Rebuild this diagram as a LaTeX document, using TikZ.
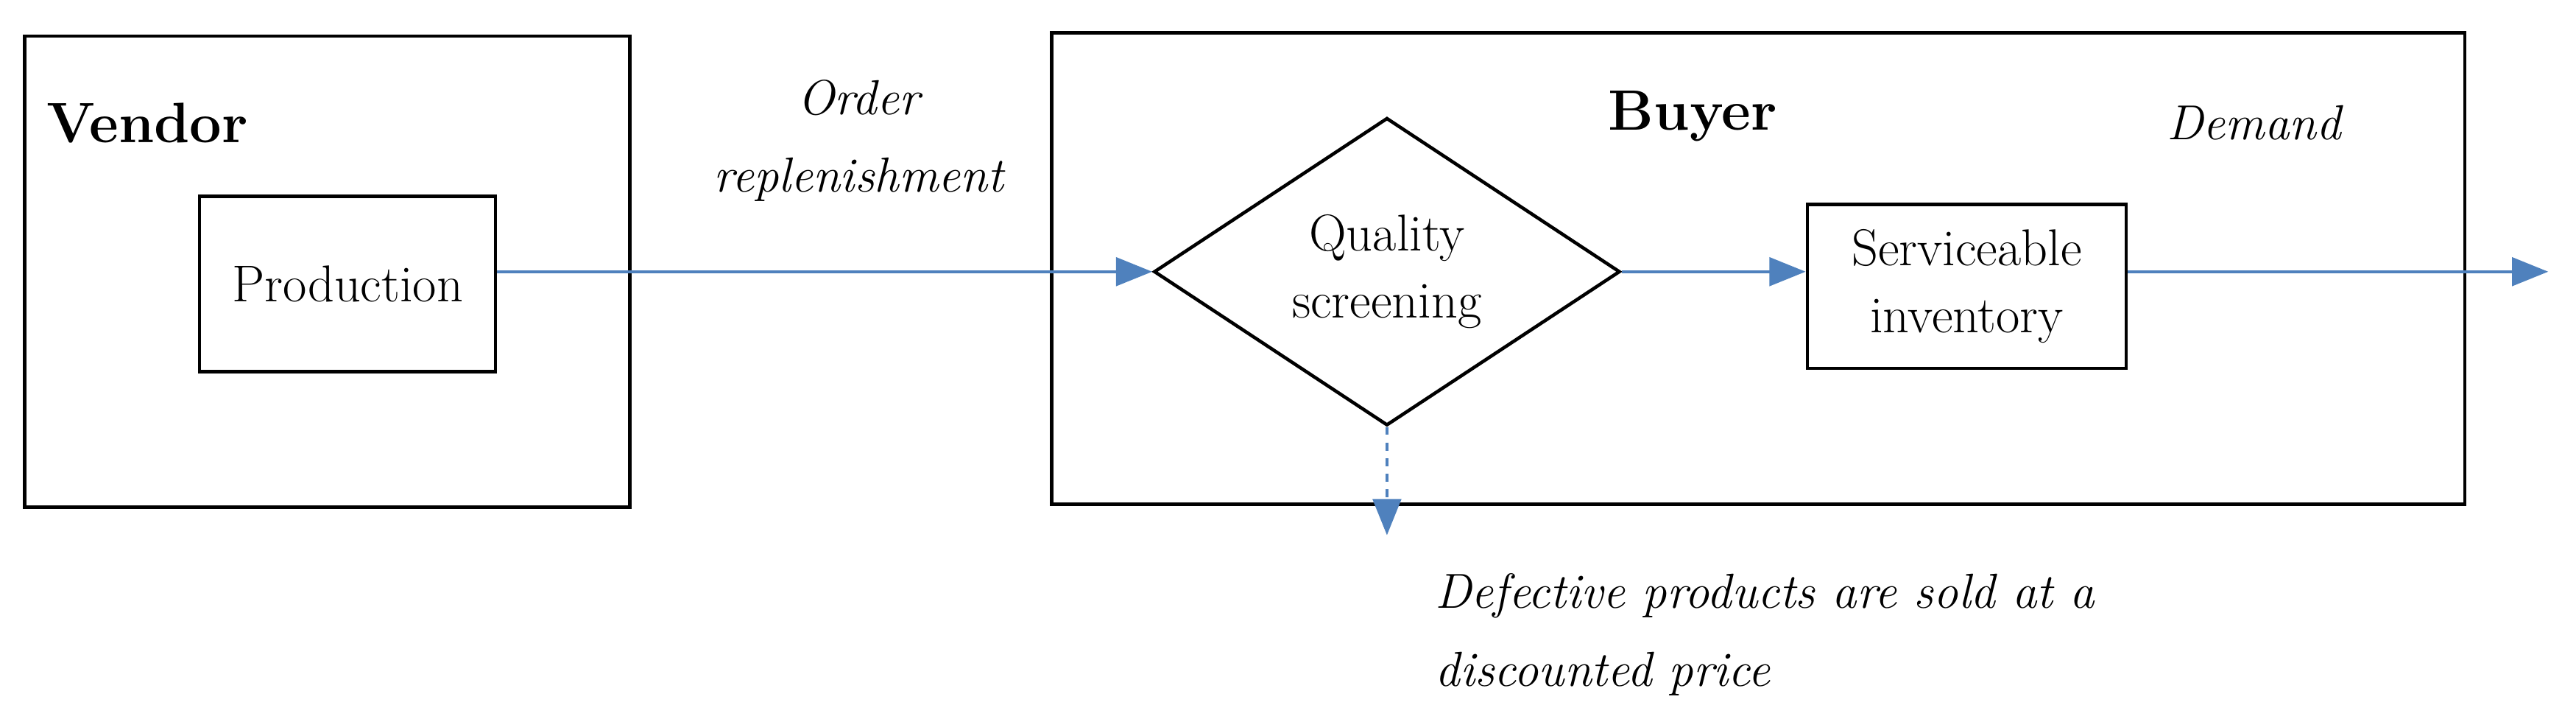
\documentclass[tikz,border=0pt]{standalone}
\usetikzlibrary{shapes.geometric,arrows.meta}
\begin{document}
\begin{tikzpicture}[x=0.022216cm,y=-0.022216cm,
  box/.style={draw,line width=1.3pt,inner sep=0},
  arr/.style={draw={rgb,255:red,79;green,129;blue,189},line width=1.1pt,-{Triangle[length=14pt,width=11pt]}},
  lbl/.style={font=\fontsize{20}{26}\selectfont},
  bld/.style={font=\fontsize{22}{26}\selectfont\bfseries},
  ital/.style={font=\fontsize{19}{30}\selectfont\itshape}]
\useasboundingbox (0,0) rectangle (1575,439);
\node[box,minimum width=370*0.22216mm,minimum height=288*0.22216mm] (vendor) at (200,166) {};
\node[box,minimum width=864*0.22216mm,minimum height=288*0.22216mm] (buyer) at (1075,164) {};
\node[bld] (vt) at (90,75) {Vendor};
\node[bld] (bt) at (1035,71) {Buyer};
\node[box,lbl,minimum width=181*0.22216mm,minimum height=107*0.22216mm] (prod) at (212.5,173.5) {Production};
\node[box,lbl,diamond,aspect=1.52,minimum width=285*0.22216mm,minimum height=188*0.22216mm,align=center] (qs) at (848,166) {Quality\\screening};
\node[box,lbl,minimum width=195*0.22216mm,minimum height=100*0.22216mm,align=center] (inv) at (1202.5,175) {Serviceable\\inventory};
\coordinate (dem) at (1558,166);
\coordinate (def) at (848,327);
\node[ital,align=center] (ord) at (525,86) {Order\\replenishment};
\node[ital] (demt) at (1378,75) {Demand};
\node[ital,align=left,anchor=north west] (deft) at (872,345) {Defective products are sold at a\\discounted price};
\draw[arr] (prod.east |- qs.west) -- (qs.west);
\draw[arr] (qs.east) -- (inv.west |- qs.east);
\draw[arr] (inv.east |- qs.east) -- (dem);
\draw[arr,dashed] (qs.south) -- (def);
\end{tikzpicture}
\end{document}
